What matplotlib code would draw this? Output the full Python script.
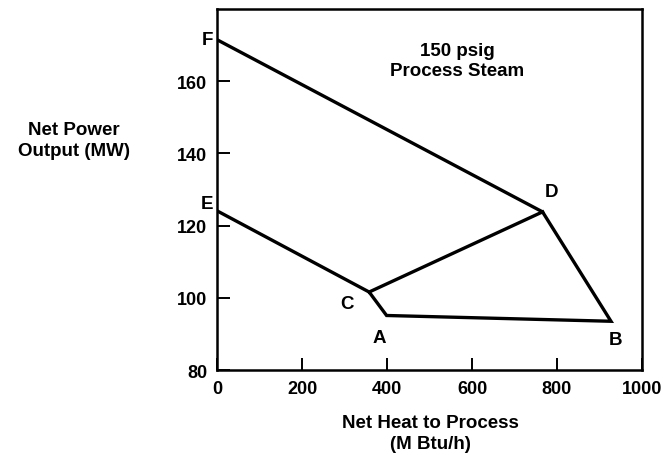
"""
Net power output vs net heat to process, 150 psig process steam.
"""
import matplotlib
matplotlib.use("Agg")
import matplotlib.pyplot as plt

# corner points of the operating envelope
point_names = ["F", "D", "B", "A", "C", "E"]
heat = [0, 766, 927, 399, 358, 0]
power = [171.5, 123.8, 93.5, 95.1, 101.6, 124.1]

x_ticks = [0, 200, 400, 600, 800, 1000]
y_ticks = [80, 100, 120, 140, 160]

plt.rcParams["font.family"] = ["Liberation Sans", "DejaVu Sans"]
plt.rcParams["font.weight"] = "bold"

fig = plt.figure(figsize=(6.65, 4.56), dpi=100)
ax = fig.add_axes([217 / 665, 1 - 371 / 456, 425 / 665, 361 / 456])

ax.plot(heat, power, color="black", lw=2.4, solid_joinstyle="miter")
# inner line from C to D
ci = point_names.index("C")
di = point_names.index("D")
ax.plot([heat[ci], heat[di]], [power[ci], power[di]], color="black", lw=2.4)

ax.set_xlim(0, 1000)
ax.set_ylim(80, 180)
ax.set_xticks(x_ticks)
ax.set_yticks(y_ticks)
ax.tick_params(direction="in", length=9, width=1.4, labelsize=13)
ax.tick_params(axis="x", pad=7)
ax.tick_params(axis="y", pad=7)
for lab in ax.get_xticklabels() + ax.get_yticklabels():
    lab.set_fontweight("bold")
for sp in ax.spines.values():
    sp.set_linewidth(1.8)

# point labels, offset in pixels from their corners
offsets = {"F": (-10, 0), "E": (-10, 7), "C": (-22, -11), "A": (-7, -22),
           "D": (9, 20), "B": (5, -18)}
for name, x, y in zip(point_names, heat, power):
    dx, dy = offsets[name]
    ax.annotate(name, (x, y), xytext=(dx, dy), textcoords="offset pixels",
                ha="center", va="center", fontsize=13.5, fontweight="bold")

ax.text(0.565, 0.858, "150 psig\nProcess Steam", transform=ax.transAxes,
        ha="center", va="center", fontsize=13.5, fontweight="bold",
        linespacing=1.2)

fig.text(430 / 665, 1 - 434 / 456, "Net Heat to Process\n(M Btu/h)",
         ha="center", va="center", fontsize=13.5, fontweight="bold",
         linespacing=1.25)
fig.text(74 / 665, 1 - 141 / 456, "Net Power\nOutput (MW)",
         ha="center", va="center", fontsize=13.5, fontweight="bold",
         linespacing=1.25)

fig.savefig("out.png", dpi=100)
